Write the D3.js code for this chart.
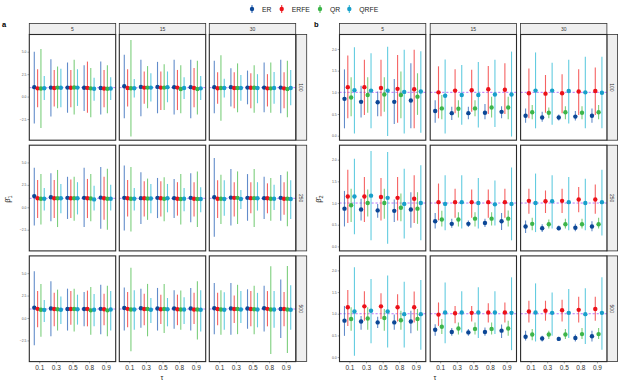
<!DOCTYPE html>
<html><head><meta charset="utf-8">
<script src="https://cdn.jsdelivr.net/npm/d3@7"></script>
<style>body{margin:0;background:#fff}svg{display:block;font-family:"Liberation Sans",Arial,Helvetica,sans-serif}</style>
</head><body><svg id="c" width="623" height="385"></svg>
<script>
const methods=["ER","ERFE","QR","QRFE"];
const taus=["0.1","0.3","0.5","0.8","0.9"];
const tLevels=["5","15","30"];
const nLevels=["100","250","500"];
const trueValue=1;
const ticksA=[-2.5,0,2.5,5];
const ticksB=[0,0.5,1,1.5,2];

// Panel a (beta1): [n][t][tau][method]
const b1Est=[
 [[[1.05,0.92,0.9,0.93],[1.0,0.95,1.0,0.98],[1.0,0.98,1.02,1.0],[0.98,0.97,0.92,0.88],[0.95,0.9,0.88,0.9]],
  [[1.15,0.95,0.93,0.93],[1.08,1.0,1.0,1.0],[1.08,1.0,1.0,1.05],[1.05,1.0,0.85,0.95],[1.05,0.95,0.85,0.92]],
  [[1.05,0.93,0.95,0.95],[1.05,0.95,0.95,0.95],[1.0,0.98,0.98,0.95],[1.0,0.92,0.92,0.95],[1.0,0.92,0.85,0.95]]],
 [[[1.25,1.0,0.95,0.95],[1.12,1.0,1.0,1.0],[1.05,1.0,1.0,1.0],[1.05,1.0,0.98,0.88],[1.08,1.0,0.95,0.95]],
  [[1.05,1.0,0.95,0.95],[1.02,1.0,0.98,0.98],[1.05,1.0,0.95,1.0],[1.02,0.95,0.92,0.95],[1.05,0.95,0.92,0.92]],
  [[1.12,0.95,0.95,0.92],[1.08,1.05,1.05,0.92],[1.05,1.02,1.02,1.0],[1.02,1.0,0.95,0.95],[1.05,0.95,0.95,0.92]]],
 [[[1.15,1.02,0.92,0.9],[1.05,1.0,0.98,0.92],[1.0,1.0,1.0,0.98],[1.0,1.0,0.85,0.92],[1.02,0.98,0.85,0.95]],
  [[1.12,1.02,0.95,0.95],[1.08,1.0,1.0,0.92],[1.05,0.98,1.0,0.98],[1.05,0.98,0.95,0.95],[1.05,0.95,0.95,0.92]],
  [[1.08,1.0,0.95,0.92],[1.05,1.0,1.0,0.95],[1.05,1.0,0.98,0.95],[1.08,1.02,0.95,0.95],[1.0,1.0,0.95,0.92]]]
];
const b1Low=[
 [[[-3.0,-1.19,-3.5,-0.37],[-2.23,-1.1,-1.3,-1.2],[-1.8,-1.2,-2.0,-1.04],[-1.6,-1.8,-2.3,-0.45],[-2.0,-1.2,-1.86,-0.37]],
  [[-2.4,-1.1,-4.46,-0.1],[-2.2,-0.8,-1.3,-0.56],[-1.86,-1.5,-1.5,-0.63],[-2.0,-1.5,-1.86,-0.26],[-2.4,-1.2,-2.0,-0.37]],
  [[-1.86,-0.8,-2.7,-0.1],[-1.1,-1.3,-1.75,-0.45],[-0.86,-1.3,-1.8,-0.74],[-1.75,-1.1,-1.8,-0.8],[-1.86,-1.3,-2.3,-0.97]]],
 [[[-2.04,-1.19,-1.93,-0.37],[-1.56,-1.19,-2.2,-0.67],[-1.3,-1.2,-1.5,-0.8],[-2.2,-1.2,-1.56,-0.37],[-2.4,-1.4,-2.5,-0.37]],
  [[-2.6,-1.04,-2.7,-0.37],[-1.86,-1.04,-1.4,-0.67],[-1.2,-1.04,-1.56,-0.56],[-1.19,-0.93,-1.93,-0.45],[-1.67,-1.04,-2.2,-0.56]],
  [[-3.27,-1.19,-1.86,-0.93],[-2.04,-1.04,-1.86,-0.19],[-1.5,-0.67,-2.2,-0.37],[-1.3,-0.67,-1.5,-0.3],[-1.5,-0.82,-2.1,-1.3]]],
 [[[-3.05,-1.04,-2.1,-0.45],[-2.04,-0.93,-1.4,-0.67],[-1.4,-0.74,-1.5,-0.74],[-0.93,-0.93,-1.86,-0.93],[-1.8,-0.8,-2.04,-1.4]],
  [[-1.4,-1.04,-3.7,-1.3],[-1.1,-0.8,-2.04,-0.56],[-1.4,-0.67,-1.67,-0.93],[-1.2,-0.8,-1.3,-0.67],[-1.4,-0.67,-2.4,-1.5]],
  [[-1.8,-0.8,-1.86,-1.3],[-1.86,-0.56,-1.8,-0.56],[-1.2,-0.93,-1.8,-1.04],[-1.5,-0.93,-4.0,-1.1],[-2.23,-0.93,-3.9,-1.3]]]
];
const b1High=[
 [[[5.0,3.05,5.3,2.3],[4.16,2.97,3.35,3.1],[3.8,2.97,4.1,3.05],[3.5,3.9,3.2,2.1],[3.9,2.97,3.5,2.15]],
  [[4.65,3.05,6.3,1.97],[4.1,2.8,3.4,2.6],[3.87,2.8,3.6,2.8],[4.1,2.97,3.5,2.15],[4.1,3.2,4.0,2.3]],
  [[4.0,2.7,4.6,2.0],[3.16,2.7,3.7,2.4],[2.9,2.6,3.5,2.5],[3.8,2.5,3.8,2.75],[4.1,2.7,4.0,2.97]]],
 [[[4.4,3.05,3.7,2.16],[3.8,3.05,4.16,2.6],[3.4,3.1,3.4,2.8],[4.4,3.16,3.7,2.4],[4.5,3.4,4.3,2.5]],
  [[4.65,3.05,4.5,2.16],[3.9,2.9,3.2,2.6],[3.27,2.9,3.35,2.6],[3.16,2.8,3.7,2.16],[3.8,2.8,4.0,2.23]],
  [[5.5,3.0,3.64,3.0],[4.27,2.8,4.0,1.93],[3.7,2.8,4.27,2.8],[3.4,2.67,3.27,2.5],[3.6,2.8,4.0,3.0]]],
 [[[5.2,3.0,3.8,2.0],[4.1,2.8,3.16,2.4],[3.27,3.0,3.27,2.6],[2.9,3.05,3.45,2.67],[3.7,2.7,3.6,3.0]],
  [[3.4,2.9,5.6,3.1],[3.27,2.7,3.8,2.23],[3.35,2.6,3.8,2.23],[3.1,2.6,3.05,2.3],[3.35,2.8,4.1,3.1]],
  [[3.9,2.8,3.1,2.86],[3.9,2.5,3.7,3.0],[3.2,3.0,3.6,2.8],[3.6,3.0,5.76,3.0],[4.3,2.9,5.8,3.64]]]
];

// Panel b (beta2): [n][t][tau][method]
const b2Est=[
 [[[0.85,1.12,0.88,1.05],[0.78,1.12,0.94,1.04],[0.77,1.1,0.95,1.04],[0.78,1.08,0.94,1.01],[0.81,1.07,0.9,1.02]],
  [[0.57,1.0,0.63,0.92],[0.52,1.04,0.62,0.94],[0.52,1.05,0.63,0.94],[0.53,1.07,0.65,0.95],[0.55,1.06,0.65,0.95]],
  [[0.46,0.98,0.54,1.04],[0.42,0.97,0.53,1.04],[0.42,0.98,0.54,1.03],[0.44,1.02,0.53,1.0],[0.46,1.03,0.54,0.99]]],
 [[[0.87,1.15,0.95,1.15],[0.85,1.15,1.0,1.17],[0.83,1.14,1.0,1.12],[0.82,1.12,0.89,0.98],[0.85,1.1,0.87,1.0]],
  [[0.58,1.02,0.62,0.98],[0.52,1.02,0.62,1.02],[0.52,1.02,0.64,1.0],[0.54,1.02,0.64,0.97],[0.58,1.02,0.64,0.98]],
  [[0.46,1.05,0.52,1.0],[0.42,1.04,0.51,1.04],[0.42,1.05,0.51,1.02],[0.43,1.08,0.51,1.0],[0.46,1.08,0.51,1.02]]],
 [[[0.84,1.15,0.88,1.05],[0.82,1.17,0.89,1.07],[0.8,1.17,0.9,1.05],[0.8,1.15,0.85,0.99],[0.82,1.15,0.88,0.99]],
  [[0.63,0.98,0.7,1.03],[0.58,1.01,0.66,1.03],[0.57,1.02,0.65,1.03],[0.58,1.03,0.65,1.03],[0.61,1.03,0.66,1.02]],
  [[0.47,1.05,0.52,1.03],[0.43,1.07,0.52,1.02],[0.42,1.08,0.52,1.02],[0.44,1.09,0.53,0.99],[0.48,1.11,0.53,1.02]]]
];
const b2Low=[
 [[[0.17,0.4,0.45,0.05],[0.42,0.48,0.53,0.17],[0.45,0.45,0.55,-0.01],[0.27,0.3,0.4,0.05],[0.17,0.17,0.48,0.07]],
  [[0.3,0.4,0.38,0.05],[0.36,0.52,0.42,0.25],[0.38,0.55,0.45,0.19],[0.38,0.5,0.42,0.2],[0.4,0.5,0.38,-0.02]],
  [[0.3,0.4,0.38,0.17],[0.32,0.53,0.4,0.25],[0.35,0.52,0.38,0.28],[0.35,0.48,0.38,0.17],[0.3,0.48,0.38,0.17]]],
 [[[0.46,0.54,0.56,0.28],[0.6,0.56,0.69,0.14],[0.66,0.6,0.64,0.06],[0.56,0.6,0.58,0.18],[0.43,0.54,0.52,0.14]],
  [[0.41,0.6,0.46,0.37],[0.43,0.66,0.46,0.41],[0.45,0.66,0.46,0.41],[0.45,0.66,0.48,0.48],[0.38,0.66,0.46,0.14]],
  [[0.31,0.75,0.37,0.33],[0.33,0.77,0.41,0.41],[0.37,0.77,0.41,0.37],[0.35,0.79,0.41,0.37],[0.35,0.75,0.41,0.25]]],
 [[[0.49,0.72,0.61,0.03],[0.63,0.84,0.63,0.32],[0.67,0.88,0.61,0.22],[0.63,0.82,0.63,0.22],[0.55,0.8,0.61,0.17]],
  [[0.49,0.72,0.53,0.32],[0.49,0.78,0.52,0.57],[0.49,0.82,0.52,0.44],[0.49,0.8,0.52,0.53],[0.44,0.8,0.49,0.16]],
  [[0.38,0.8,0.39,0.36],[0.36,0.84,0.42,0.49],[0.38,0.82,0.42,0.44],[0.36,0.8,0.42,0.3],[0.36,0.84,0.42,0.17]]]
];
const b2High=[
 [[[1.53,1.85,1.35,2.04],[1.15,1.75,1.35,1.9],[1.02,1.75,1.35,2.05],[1.31,1.86,1.48,1.98],[1.67,1.98,1.44,1.95]],
  [[0.82,1.6,0.94,1.76],[0.67,1.53,0.82,1.63],[0.67,1.52,0.82,1.7],[0.73,1.61,0.9,1.75],[0.68,1.67,0.9,1.94]],
  [[0.63,1.55,0.71,1.92],[0.55,1.4,0.65,1.68],[0.49,1.42,0.68,1.75],[0.57,1.53,0.68,1.82],[0.63,1.57,0.71,1.82]]],
 [[[1.28,1.77,1.33,2.02],[1.1,1.6,1.31,2.2],[0.98,1.58,1.33,2.18],[1.08,1.6,1.22,1.79],[1.25,1.64,1.25,1.87]],
  [[0.77,1.45,0.82,1.64],[0.64,1.33,0.79,1.64],[0.6,1.31,0.79,1.58],[0.64,1.31,0.79,1.52],[0.77,1.33,0.83,1.82]],
  [[0.6,1.33,0.66,1.68],[0.51,1.29,0.62,1.64],[0.48,1.33,0.64,1.6],[0.52,1.37,0.64,1.56],[0.58,1.43,0.66,1.77]]],
 [[[1.18,1.55,1.15,2.07],[0.95,1.52,1.15,1.8],[0.93,1.47,1.11,1.88],[0.98,1.45,1.07,1.74],[1.07,1.51,1.11,1.78]],
  [[0.76,1.26,0.88,1.72],[0.67,1.18,0.8,1.52],[0.65,1.18,0.8,1.61],[0.68,1.24,0.8,1.52],[0.75,1.26,0.84,1.84]],
  [[0.61,1.3,0.65,1.7],[0.49,1.3,0.61,1.49],[0.47,1.32,0.65,1.57],[0.52,1.39,0.67,1.59],[0.61,1.39,0.67,1.84]]]
];

const pointColors=["#0c4796","#ec1119","#3db54a","#189fca"];
const barColors=["#3a6fbd","#f23b3b","#5cc35c","#3cbfd8"];

const svg=d3.select("#c");
const rowTop=34.5, rowH=105.7, rowGap=5;
const panels=[
  {label:"a",labelX:2,colX:[29.3,119.3,209.3],colW:86.4,stripX:296,domain:[-4.86,6.92],ticks:ticksA,est:b1Est,lo:b1Low,hi:b1High,titleX:10,sub:"1",tauX:162},
  {label:"b",labelX:314,colX:[339.5,430.2,520.6],colW:86.3,stripX:606.9,domain:[-0.104,2.334],ticks:ticksB,est:b2Est,lo:b2Low,hi:b2High,titleX:321,sub:"2",tauX:435}
];
const fmt=d3.format(".1f");

panels.forEach(p=>{
  svg.append("text").attr("x",p.labelX).attr("y",27).attr("font-size",7.5).attr("font-weight","bold").attr("fill","#000").text(p.label);
  // y title
  const yt=svg.append("text").attr("transform",`translate(${p.titleX},199) rotate(-90)`).attr("text-anchor","middle").attr("font-size",7.5).attr("fill","#222");
  yt.append("tspan").text("\u03B2\u0302");
  yt.append("tspan").attr("font-size",5.5).attr("dy",2).text(p.sub);

  nLevels.forEach((nl,r)=>{
    const y0=rowTop+r*(rowH+rowGap), y1=y0+rowH;
    const y=d3.scaleLinear().domain(p.domain).range([y1,y0]);
    // right strip
    svg.append("rect").attr("x",p.stripX).attr("y",y0).attr("width",10.7).attr("height",rowH).attr("fill","#efefef").attr("stroke","#333").attr("stroke-width",0.8);
    svg.append("text").attr("transform",`translate(${p.stripX+5.35},${(y0+y1)/2}) rotate(90)`).attr("text-anchor","middle").attr("dominant-baseline","central").attr("font-size",5).attr("fill","#333").text(nl);
    // y axis
    const ya=svg.append("g").attr("transform",`translate(${p.colX[0]},0)`).call(d3.axisLeft(y).tickValues(p.ticks).tickFormat(fmt).tickSize(1.8).tickPadding(1));
    ya.select(".domain").remove();
    ya.selectAll("line").attr("stroke","#555").attr("stroke-width",0.5);
    ya.selectAll("text").attr("font-size",3.4).attr("fill","#555").attr("font-family","Liberation Sans, Arial, sans-serif");

    tLevels.forEach((tl,c)=>{
      const x0=p.colX[c], x1=x0+p.colW;
      const x=d3.scalePoint().domain(taus).range([x0,x1]).padding(0.6);
      const step=x.step();
      if(r===0){
        svg.append("rect").attr("x",x0).attr("y",y0-11).attr("width",p.colW).attr("height",11).attr("fill","#efefef").attr("stroke","#333").attr("stroke-width",0.8);
        svg.append("text").attr("x",(x0+x1)/2).attr("y",y0-5.5).attr("text-anchor","middle").attr("dominant-baseline","central").attr("font-size",5).attr("fill","#333").text(tl);
      }
      const g=svg.append("g");
      g.append("rect").attr("x",x0).attr("y",y0).attr("width",p.colW).attr("height",rowH).attr("fill","#fff");
      g.append("line").attr("x1",x0).attr("x2",x1).attr("y1",y(trueValue)).attr("y2",y(trueValue))
        .attr("stroke","#a855f7").attr("stroke-width",1).attr("stroke-dasharray","2.2,1.8").attr("opacity",0.8);
      const items=[];
      taus.forEach((tau,k)=>methods.forEach((m,mi)=>{
        items.push({tau,mi,est:p.est[r][c][k][mi],lo:p.lo[r][c][k][mi],hi:p.hi[r][c][k][mi]});
      }));
      const xp=d=>x(d.tau)+(d.mi-1.5)*0.2*step;
      g.selectAll("line.bar").data(items).join("line").attr("class","bar")
        .attr("x1",xp).attr("x2",xp).attr("y1",d=>y(d.lo)).attr("y2",d=>y(d.hi))
        .attr("stroke",d=>barColors[d.mi]).attr("stroke-width",1.1).attr("stroke-opacity",0.8);
      g.selectAll("circle").data(items).join("circle")
        .attr("cx",xp).attr("cy",d=>y(d.est)).attr("r",2.2).attr("fill",d=>pointColors[d.mi]);
      g.append("rect").attr("x",x0).attr("y",y0).attr("width",p.colW).attr("height",rowH).attr("fill","none").attr("stroke","#2a2a2a").attr("stroke-width",1.1);
      if(r===nLevels.length-1){
        const xa=svg.append("g").attr("transform",`translate(0,${y1})`).call(d3.axisBottom(x).tickSize(1.8).tickPadding(1.5));
        xa.select(".domain").remove();
        xa.selectAll("line").attr("stroke","#444").attr("stroke-width",0.5);
        xa.selectAll("text").attr("font-size",6.5).attr("fill","#333").attr("font-family","Liberation Sans, Arial, sans-serif");
      }
    });
  });
  svg.append("text").attr("x",p.tauX).attr("y",380).attr("text-anchor","middle").attr("font-size",7).attr("fill","#222").text("\u03C4");
});

// legend
const legX=[252,281.7,320,349.3];
methods.forEach((m,i)=>{
  const lg=svg.append("g");
  lg.append("line").attr("x1",legX[i]).attr("x2",legX[i]).attr("y1",5).attr("y2",13).attr("stroke",barColors[i]).attr("stroke-width",1.1);
  lg.append("circle").attr("cx",legX[i]).attr("cy",9).attr("r",2.2).attr("fill",pointColors[i]);
  lg.append("text").attr("x",legX[i]+10).attr("y",9).attr("dominant-baseline","central").attr("font-size",6.8).attr("fill","#222").text(m);
});
</script></body></html>
